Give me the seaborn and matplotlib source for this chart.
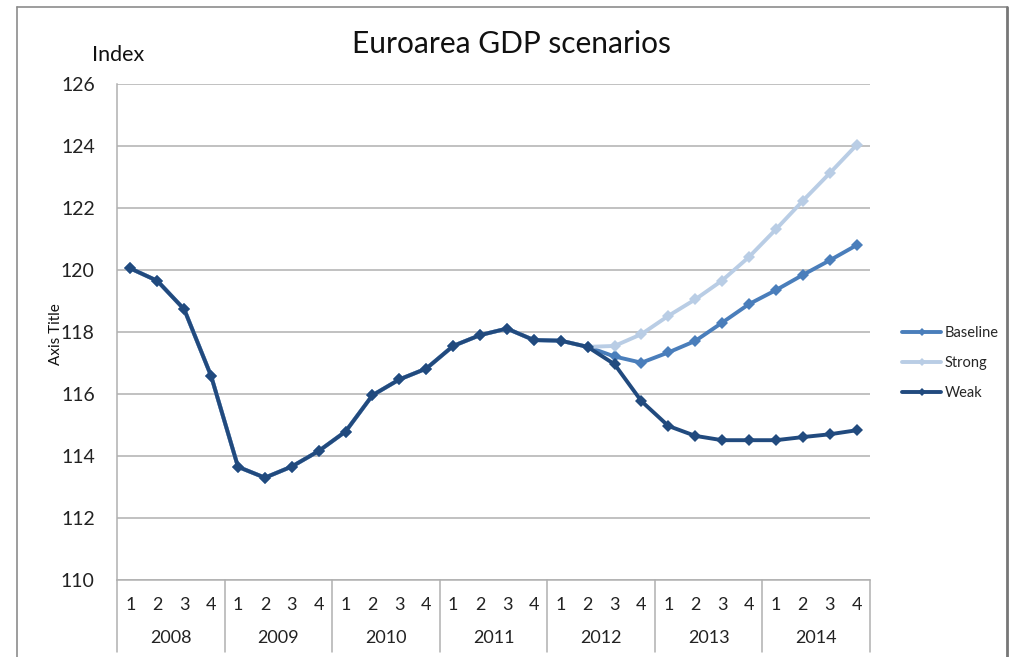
"""
Euroarea GDP scenarios: quarterly index, three scenarios.
"""

import numpy as np
import pandas as pd
import matplotlib
matplotlib.use("Agg")
import matplotlib.pyplot as plt
import seaborn as sns
from matplotlib.lines import Line2D


years = ["2008", "2009", "2010", "2011", "2012", "2013", "2014"]
quarters = ["1", "2", "3", "4"]

# shared history 2008Q1 .. 2012Q2
history = [120.05, 119.65, 118.73, 116.58,
           113.65, 113.30, 113.66, 114.16,
           114.79, 115.96, 116.47, 116.82,
           117.55, 117.90, 118.11, 117.74,
           117.72, 117.52]

# 2012Q3 .. 2014Q4
baseline_path = [117.21, 117.01, 117.34, 117.71, 118.30, 118.90, 119.35, 119.84, 120.31, 120.80]
strong_path = [117.55, 117.93, 118.52, 119.05, 119.66, 120.42, 121.31, 122.23, 123.12, 124.03]
weak_path = [116.96, 115.77, 114.97, 114.65, 114.51, 114.51, 114.51, 114.61, 114.70, 114.83]

scenarios = ["Baseline", "Strong", "Weak"]
colors = {"Baseline": "#4a7ebb", "Strong": "#b9cde5", "Weak": "#214a7e"}

W, H = 1013, 657
FONT = ["Lato", "DejaVu Sans"]

# long-form table
n = len(years) * len(quarters)
rows = []
for name, path in zip(scenarios, [baseline_path, strong_path, weak_path]):
    vals = history + path
    for i, v in enumerate(vals):
        rows.append({"t": i, "value": v, "scenario": name})
df = pd.DataFrame(rows)

sns.set_theme(style="white")
plt.rcParams["font.family"] = FONT

fig = plt.figure(figsize=(W / 100, H / 100), dpi=100)
# plot area in pixels: x 117..870, y 84..580
ax = fig.add_axes([117 / W, 1 - 580 / H, (870 - 117) / W, (580 - 84) / H])

sns.lineplot(
    data=df, x="t", y="value", hue="scenario", hue_order=scenarios,
    palette=colors, marker="D", markersize=6.5, markeredgewidth=0,
    linewidth=2.8, estimator=None, legend=False, ax=ax,
)

grid_c = "#b0b0b0"
ax.set_ylim(110, 126)
ax.set_yticks(np.arange(110, 127, 2))
ax.set_xlim(-0.5, n - 0.5)
ax.yaxis.grid(True, color=grid_c, linewidth=1.1)
ax.set_axisbelow(True)
for s in ["top", "right"]:
    ax.spines[s].set_visible(False)
for s in ["left", "bottom"]:
    ax.spines[s].set_color(grid_c)
    ax.spines[s].set_linewidth(1.1)

ax.set_xticks(np.arange(n))
ax.set_xticklabels(quarters * len(years))
ax.tick_params(axis="x", length=0, pad=12, labelsize=13, labelcolor="#222222")
ax.tick_params(axis="y", length=0, pad=16, labelsize=14, labelcolor="#222222")
ax.set_xlabel("")
ax.set_ylabel("")

# year labels and separators below the axis
trans = ax.get_xaxis_transform()
sep_bottom = -(652 - 580) / (580 - 84)
for k, yr in enumerate(years):
    ax.text(k * 4 + 1.5, -(638 - 580) / (580 - 84), yr, transform=trans,
            ha="center", va="center", fontsize=13, color="#222222")
for k in range(len(years) + 1):
    ax.plot([k * 4 - 0.5] * 2, [0, sep_bottom], transform=trans,
            color=grid_c, linewidth=1.1, clip_on=False)

# titles
fig.text(511 / W, 1 - 44 / H, "Euroarea GDP scenarios", ha="center", va="center",
         fontsize=21.5, color="#111111")
fig.text(118 / W, 1 - 55 / H, "Index", ha="center", va="center",
         fontsize=15.5, color="#111111")
fig.text(56 / W, 1 - 334 / H, "Axis Title", ha="center", va="center",
         rotation=90, fontsize=11, color="#111111")

# legend
handles = [Line2D([], [], color=colors[s], linewidth=2.8, marker="D",
                  markersize=4, markeredgewidth=0) for s in scenarios]
fig.legend(handles, scenarios, loc="upper left",
           bbox_to_anchor=(896 / W, 1 - 320 / H), frameon=False,
           fontsize=10.5, handlelength=2.7, handletextpad=0.25,
           labelspacing=1.1, borderaxespad=0)

# outer chart frame
frame_c = "#8c8c8c"
x0, x1, y0 = 17 / W, 1007 / W, 1 - 7 / H
fig.add_artist(Line2D([x0, x0], [0, y0], transform=fig.transFigure, color=frame_c, linewidth=1.2))
fig.add_artist(Line2D([x0, x1], [y0, y0], transform=fig.transFigure, color=frame_c, linewidth=1.2))
fig.add_artist(Line2D([x1, x1], [0, y0], transform=fig.transFigure, color="#777777", linewidth=2))

fig.savefig("out.png", dpi=100)
plt.close(fig)
